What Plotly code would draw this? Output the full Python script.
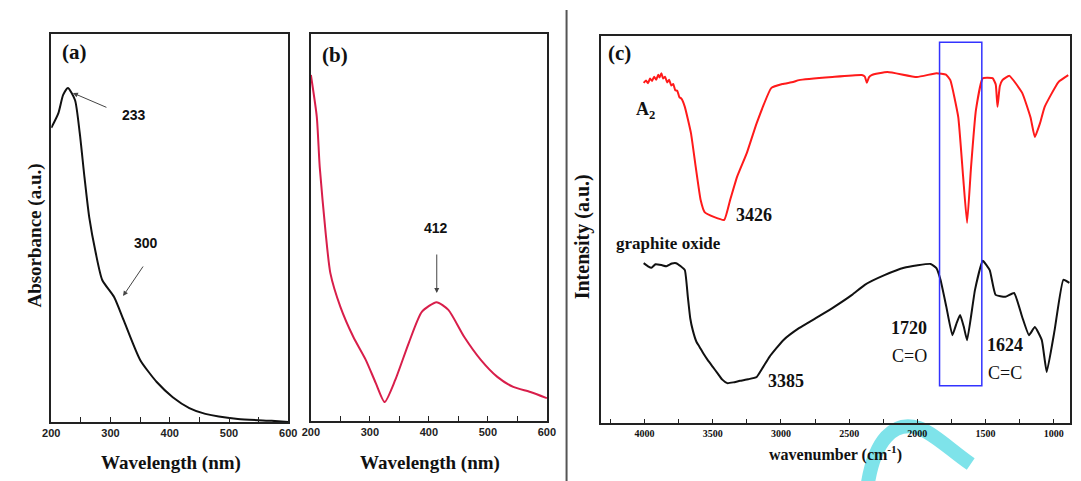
import plotly.graph_objects as go

W, H = 1081, 481

# ---- Panel (a): UV-vis absorbance ----
wl_a = [200, 212, 220, 228, 240, 248, 256, 264, 275, 286, 306, 322, 350, 378, 405, 433, 460, 515, 572, 600]
abs_a = [0.758, 0.796, 0.843, 0.861, 0.830, 0.745, 0.631, 0.528, 0.436, 0.366, 0.322, 0.263, 0.160, 0.103,
         0.064, 0.036, 0.021, 0.008, 0.003, 0.000]

# ---- Panel (b): UV-vis absorbance ----
wl_b = [200, 210, 215, 225, 233, 250, 272, 293, 310, 325, 343, 366, 388, 413, 433, 460, 488, 516, 543, 572, 600]
abs_b = [0.894, 0.786, 0.656, 0.486, 0.382, 0.295, 0.217, 0.158, 0.098, 0.049, 0.106, 0.202, 0.282, 0.307,
         0.287, 0.217, 0.158, 0.114, 0.088, 0.075, 0.059]

# ---- Panel (c): FTIR ----
wn_a2 = [4007, 3990, 3975, 3960, 3945, 3930, 3915, 3900, 3890, 3877, 3865, 3850, 3835, 3820, 3805, 3790, 3775,
         3760, 3745, 3730, 3705, 3660, 3625, 3589, 3560, 3488, 3416, 3373, 3322, 3250, 3178, 3070, 2990, 2911,
         2868, 2623, 2407, 2385, 2370, 2355, 2335, 2219, 2003, 1859, 1790, 1758, 1700, 1664, 1635, 1606, 1570,
         1520, 1448, 1425, 1412, 1395, 1376, 1325, 1231, 1170, 1138, 1100, 1066, 965, 893]
int_a2 = [0.879, 0.885, 0.878, 0.890, 0.884, 0.895, 0.887, 0.900, 0.893, 0.904, 0.890, 0.895, 0.880, 0.887,
          0.872, 0.876, 0.860, 0.858, 0.842, 0.838, 0.817, 0.749, 0.661, 0.576, 0.545, 0.532, 0.525, 0.576,
          0.636, 0.698, 0.775, 0.866, 0.876, 0.881, 0.886, 0.894, 0.899, 0.895, 0.879, 0.893, 0.899, 0.907,
          0.894, 0.904, 0.900, 0.886, 0.791, 0.636, 0.517, 0.661, 0.809, 0.891, 0.891, 0.875, 0.817, 0.870,
          0.886, 0.897, 0.853, 0.790, 0.739, 0.775, 0.817, 0.881, 0.899]

wn_go = [4007, 3975, 3950, 3920, 3877, 3840, 3800, 3769, 3735, 3705, 3683, 3665, 3647, 3620, 3596, 3570, 3538,
         3500, 3466, 3430, 3394, 3350, 3301, 3240, 3178, 3130, 3084, 2983, 2868, 2745, 2623, 2479, 2385, 2241,
         2097, 1902, 1860, 1830, 1787, 1743, 1710, 1686, 1660, 1635, 1577, 1520, 1469, 1426, 1354, 1290, 1231,
         1181, 1138, 1087, 1051, 993, 929, 885]
int_go = [0.413, 0.405, 0.401, 0.410, 0.408, 0.405, 0.412, 0.413, 0.405, 0.395, 0.326, 0.270, 0.240, 0.210,
          0.196, 0.180, 0.163, 0.145, 0.129, 0.112, 0.103, 0.105, 0.109, 0.113, 0.119, 0.145, 0.171, 0.214,
          0.245, 0.271, 0.297, 0.331, 0.357, 0.382, 0.401, 0.411, 0.400, 0.370, 0.300, 0.227, 0.260, 0.279,
          0.250, 0.214, 0.344, 0.419, 0.395, 0.331, 0.326, 0.336, 0.274, 0.227, 0.248, 0.214, 0.132, 0.240,
          0.370, 0.362]

uv_ticks = [200, 300, 400, 500, 600]
ir_ticks = [4000, 3500, 3000, 2500, 2000, 1500, 1000]
box_wn = [1837, 1527]
box_int = [0.096, 0.984]

def px(x):
    return x / W

def py(y):
    return 1 - y / H

fig = go.Figure()
fig.add_trace(go.Scatter(x=wl_a, y=abs_a, mode="lines",
                         line=dict(color="#111111", width=2, shape="spline", smoothing=0.6),
                         xaxis="x", yaxis="y", showlegend=False))
fig.add_trace(go.Scatter(x=wl_b, y=abs_b, mode="lines",
                         line=dict(color="#d81e4a", width=2, shape="spline", smoothing=0.6),
                         xaxis="x2", yaxis="y2", showlegend=False))
fig.add_trace(go.Scatter(x=wn_a2, y=int_a2, mode="lines",
                         line=dict(color="#ff1a1a", width=2, shape="spline", smoothing=0.4),
                         xaxis="x3", yaxis="y3", showlegend=False))
fig.add_trace(go.Scatter(x=wn_go, y=int_go, mode="lines",
                         line=dict(color="#111111", width=2, shape="spline", smoothing=0.4),
                         xaxis="x3", yaxis="y3", showlegend=False))

tickfont_uv = dict(family="Liberation Sans", size=11, color="#222222", weight="bold")
tickfont_ir = dict(family="Liberation Serif", size=10, color="#111111", weight="bold")

def uv_x(domain):
    return dict(domain=domain, range=[200, 600], tickvals=uv_ticks, ticks="inside", ticklen=5,
                tickcolor="#222", showline=True, linecolor="#222", linewidth=1.5, mirror=True,
                showgrid=False, zeroline=False, tickfont=tickfont_uv,
                minor=dict(ticks="inside", dtick=50, ticklen=5, tickcolor="#222"))

def plain_y(domain, anchor):
    return dict(domain=domain, range=[0, 1], showticklabels=False, ticks="", showline=True, linecolor="#222",
                linewidth=1.5, mirror=True, showgrid=False, zeroline=False, anchor=anchor)

xa = uv_x([px(43), px(284)]); xa["anchor"] = "y"
xb = uv_x([px(307), px(547)]); xb["anchor"] = "y2"
xc = dict(domain=[px(602), px(1079)], range=[4320, 880], tickvals=ir_ticks, ticks="inside", ticklen=4,
          tickcolor="#222", showline=True, linecolor="#222", linewidth=1.5, mirror=True, showgrid=False,
          zeroline=False, tickfont=tickfont_ir, anchor="y3",
          minor=dict(ticks="inside", dtick=250, ticklen=4, tickcolor="#222"))

fig.update_layout(
    width=W, height=H, margin=dict(l=0, r=0, t=0, b=0),
    paper_bgcolor="white", plot_bgcolor="rgba(0,0,0,0)",
    xaxis=xa, yaxis=plain_y([py(422), py(34)], "x"),
    xaxis2=xb, yaxis2=plain_y([py(421), py(34)], "x2"),
    xaxis3=xc, yaxis3=plain_y([py(423), py(36)], "x3"),
)

# blue box
fig.add_shape(type="rect", xref="x3", yref="y3", x0=box_wn[0], x1=box_wn[1], y0=box_int[0], y1=box_int[1],
              line=dict(color="#3333ff", width=1.5))
# divider line
fig.add_shape(type="line", xref="paper", yref="paper", x0=px(567), x1=px(567), y0=0, y1=py(10),
              line=dict(color="#555555", width=2))
# watermark arc (behind everything)
fig.add_shape(type="path", xref="paper", yref="paper", layer="below",
              path=f"M {px(873)} {py(486)} C {px(880)} {py(440)}, {px(900)} {py(420)}, {px(925)} {py(428)} "
                   f"C {px(940)} {py(433)}, {px(960)} {py(452)}, {px(978)} {py(464)}",
              line=dict(color="#7ee3ea", width=14))

serif_b = "Liberation Serif"
sans = "Liberation Sans"

def txt(x, y, s, size, family=serif_b, bold=True, angle=0, color="#111"):
    fig.add_annotation(xref="paper", yref="paper", x=px(x), y=py(y), text=(f"<b>{s}</b>" if bold else s),
                       showarrow=False, xanchor="center", yanchor="middle", textangle=angle,
                       font=dict(family=family, size=size, color=color))

def arrow(tipx, tipy, tailx, taily):
    fig.add_annotation(xref="paper", yref="paper", x=px(tipx), y=py(tipy), ax=tailx - tipx, ay=taily - tipy,
                       text="", showarrow=True, arrowhead=2, arrowsize=1, arrowwidth=1, arrowcolor="#444")

txt(67, 52, "(a)", 21)
txt(127, 115, "233", 14, family=sans)
txt(139, 243, "300", 14, family=sans)
arrow(65, 93, 100, 108)
arrow(116, 296, 137, 265)
txt(26, 236, "Absorbance (a.u.)", 19, angle=-90)
txt(165, 463, "Wavelength (nm)", 19)

txt(332, 55, "(b)", 21)
txt(434, 228, "412", 14, family=sans)
arrow(435, 293, 435, 253)
txt(428, 463, "Wavelength (nm)", 19)

txt(621, 53, "(c)", 21)
txt(647, 110, "A<sub>2</sub>", 18)
txt(758, 215, "3426", 18)
txt(671, 243, "graphite oxide", 17)
txt(790, 381, "3385", 18)
txt(915, 328, "1720", 18)
txt(916, 356, "C=O", 18, bold=False)
txt(1013, 345, "1624", 18)
txt(1013, 373, "C=C", 18, bold=False)
txt(583, 237, "Intensity (a.u.)", 20, angle=-90)
txt(840, 453, "wavenumber (cm<sup>-1</sup>)", 16)

fig.write_html("out.html")
